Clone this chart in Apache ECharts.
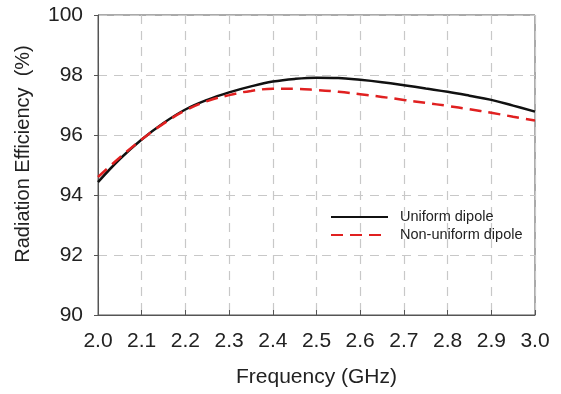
<!DOCTYPE html>
<html><head><meta charset="utf-8">
<script src="https://cdn.jsdelivr.net/npm/echarts@6/dist/echarts.min.js"></script>
<style>html,body{margin:0;padding:0;background:#fff}#c{width:561px;height:394px}</style>
</head><body><div id="c"></div>
<script>
const freq = [2.0,2.05,2.1,2.15,2.2,2.25,2.3,2.35,2.4,2.45,2.5,2.55,2.6,2.65,2.7,2.75,2.8,2.85,2.9,2.95,3.0];
const uniform = [94.43,95.2,95.85,96.4,96.85,97.17,97.42,97.62,97.78,97.87,97.91,97.9,97.84,97.76,97.66,97.55,97.44,97.31,97.17,96.98,96.78];
const nonUniform = [94.6,95.25,95.85,96.38,96.82,97.13,97.33,97.47,97.54,97.54,97.5,97.44,97.36,97.27,97.17,97.07,96.97,96.86,96.74,96.61,96.48];
const seriesNames = ['Uniform dipole','Non-uniform dipole'];
const font = 'Liberation Sans, Arial, sans-serif';
const chart = echarts.init(document.getElementById('c'), null, {renderer:'canvas'});
chart.setOption({
  animation:false,
  grid: {show:true, left:98, right:26, top:15, bottom:79, borderColor:'#555', borderWidth:1, backgroundColor:'transparent'},
  legend: {
    orient:'vertical', left:330, top:209, padding:0, itemWidth:57, itemHeight:12, itemGap:2,
    itemStyle:{opacity:0},
    textStyle:{fontFamily:font, fontSize:14.5, lineHeight:16, color:'#222', padding:[0,0,0,7]},
    data: seriesNames
  },
  xAxis: {
    type:'value', min:2.0, max:3.0, interval:0.1,
    name:'Frequency (GHz)', nameLocation:'middle', nameGap:52,
    nameTextStyle:{fontFamily:font, fontSize:21, color:'#222'},
    axisLine:{lineStyle:{color:'#555'}},
    axisTick:{inside:true, length:5, lineStyle:{color:'#555'}},
    axisLabel:{fontFamily:font, fontSize:21, color:'#222', margin:16, formatter:v=>v.toFixed(1)},
    splitLine:{show:true, lineStyle:{color:'#c8c8c8', type:[9,7], width:1.2}}
  },
  yAxis: {
    type:'value', min:90, max:100, interval:2,
    name:'Radiation Efficiency  (%)', nameLocation:'middle', nameGap:65,
    nameTextStyle:{fontFamily:font, fontSize:20, color:'#222', padding:[0,0,0,22]},
    axisLine:{show:true, lineStyle:{color:'#555'}},
    axisTick:{show:true, inside:false, length:4, lineStyle:{color:'#555'}},
    axisLabel:{fontFamily:font, fontSize:21, color:'#222', margin:15},
    splitLine:{show:true, lineStyle:{color:'#c8c8c8', type:[9,7], width:1.2}}
  },
  series: [
    {name:seriesNames[0], type:'line', smooth:0.4, showSymbol:false, symbol:'none',
     data: freq.map((f,i)=>[f,uniform[i]]), lineStyle:{color:'#111', width:2.5}, itemStyle:{color:'#111'}},
    {name:seriesNames[1], type:'line', smooth:0.4, showSymbol:false, symbol:'none',
     data: freq.map((f,i)=>[f,nonUniform[i]]), lineStyle:{color:'#e02020', width:2.5, type:[12,7]}, itemStyle:{color:'#e02020'}}
  ]
});
</script></body></html>
